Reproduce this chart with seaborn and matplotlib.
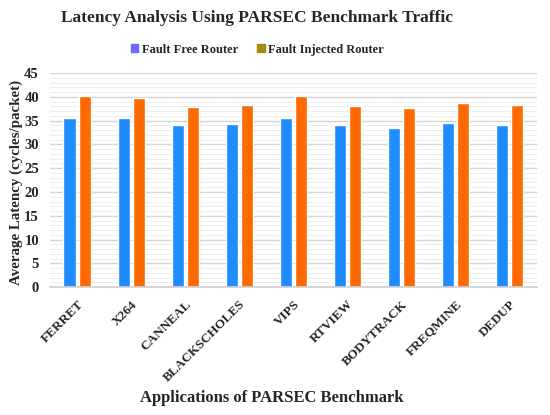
import matplotlib
matplotlib.use("Agg")
import matplotlib.pyplot as plt
import seaborn as sns
import pandas as pd
from matplotlib.ticker import MultipleLocator
from matplotlib.patches import Patch

apps = ["FERRET", "X264", "CANNEAL", "BLACKSCHOLES", "VIPS", "RTVIEW",
        "BODYTRACK", "FREQMINE", "DEDUP"]
fault_free = [35.5, 35.5, 34.1, 34.3, 35.6, 34.1, 33.5, 34.5, 34.1]
fault_injected = [40.1, 39.7, 37.9, 38.2, 40.1, 38.0, 37.6, 38.6, 38.2]
series = ["Fault Free Router", "Fault Injected Router"]
colors = ["#1e8cff", "#ff6a00"]
legend_colors = ["#6a6aff", "#a08c10"]

df = pd.DataFrame({
    "app": apps * 2,
    "latency": fault_free + fault_injected,
    "series": [series[0]] * len(apps) + [series[1]] * len(apps),
})

sns.set_theme(style="white")
plt.rcParams["font.family"] = ["Liberation Serif", "DejaVu Serif"]
plt.rcParams["font.weight"] = "bold"

fig = plt.figure(figsize=(5.5, 4.15), dpi=100)
ax = fig.add_axes([0.091, 0.308, 0.885, 0.516])

sns.barplot(data=df, x="app", y="latency", hue="series", order=apps,
            hue_order=series, palette=colors, width=0.56, gap=0.2,
            saturation=1, ax=ax, legend=False)

ax.set_ylim(0, 45)
ax.set_xlim(-0.5, len(apps) - 0.5)
ax.yaxis.set_major_locator(MultipleLocator(5))
ax.yaxis.set_minor_locator(MultipleLocator(1))
ax.grid(axis="y", which="major", color="#d4d4d4", linewidth=1.0)
ax.grid(axis="y", which="minor", color="#eeeeee", linewidth=0.7)
ax.set_axisbelow(True)
for s in ["top", "right", "left"]:
    ax.spines[s].set_visible(False)
ax.spines["bottom"].set_color("#d0d0d0")

ax.tick_params(axis="y", which="both", length=0, labelsize=10.5, pad=8)
ax.tick_params(axis="x", length=0, labelsize=9.5, pad=8)
for lab in ax.get_yticklabels():
    lab.set_fontweight("bold")
ax.set_xticks(range(len(apps)))
ax.set_xticklabels(apps, rotation=45, ha="right", rotation_mode="anchor",
                   fontweight="bold", fontsize=9.5)

ax.set_xlabel("Applications of PARSEC Benchmark", fontsize=12,
              fontweight="bold")
ax.xaxis.set_label_coords(0.455, -0.48)
ax.set_ylabel("Average Latency (cycles/packet)", fontsize=10.8,
              fontweight="bold")
ax.yaxis.set_label_coords(-0.055, 0.49)

fig.suptitle("Latency Analysis Using PARSEC Benchmark Traffic",
             fontsize=12.5, fontweight="bold", x=0.467, y=0.975)

handles = [Patch(color=c) for c in legend_colors]
fig.legend(handles, series, loc="center", bbox_to_anchor=(0.468, 0.88),
           ncol=2, frameon=False, prop={"weight": "bold", "size": 9},
           handlelength=0.6, handleheight=0.6, handletextpad=0.3,
           columnspacing=1.5)

fig.savefig("out.png", dpi=100, facecolor="white")
